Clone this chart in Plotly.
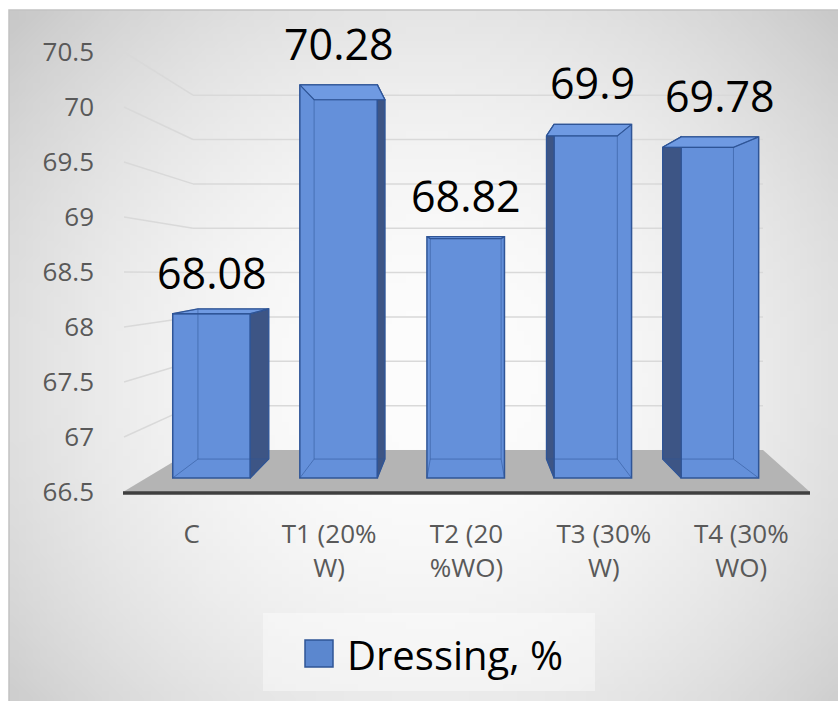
import base64
import struct
import zlib
import plotly.graph_objects as go

# ---------------- data ----------------
categories = ["C", "T1 (20%<br>W)", "T2 (20<br>%WO)", "T3 (30%<br>W)", "T4 (30%<br>WO)"]
dressing = [68.08, 70.28, 68.82, 69.90, 69.78]
value_labels = ["68.08", "70.28", "68.82", "69.9", "69.78"]
y_ticks = [66.5, 67, 67.5, 68, 68.5, 69, 69.5, 70, 70.5]
y_tick_labels = ["66.5", "67", "67.5", "68", "68.5", "69", "69.5", "70", "70.5"]
series_name = "Dressing, %"

# ---------------- layout constants (pixels) ----------------
W, H = 838, 701
Y_MIN, Y_MAX = 66.5, 70.5


def px(x):
    return x / W


def py(y):
    return 1 - y / H


# bar plane: index i -> 211.5 + 127.1*i ; value v -> 478 - (v-66.5)*104
BX0, BDX = 211.5, 127.1
BY0, BDY = 478.0, 104.0
x3_range = [(0 - BX0) / BDX, (W - BX0) / BDX]
y3_range = [Y_MIN - (H - BY0) / BDY, Y_MIN + BY0 / BDY]
VX = 2.0                      # vanishing point (data units of bar plane)
VY = Y_MIN + (BY0 - 258) / BDY
DEPTH = 0.086
HALF = 0.305

BAR_FACE = "#6490da"
BAR_TOP = "#6f9ae2"
BAR_SIDE = "#3d5585"
BAR_EDGE = "#2f5597"
GRID = "#d9d9d9"


def back(p):
    return (p[0] + DEPTH * (VX - p[0]), p[1] + DEPTH * (VY - p[1]))


def front_y(v):
    return 492 - (v - Y_MIN) * 110


def back_y(v):
    return 450 - (v - Y_MIN) * 88.7


# ---------------- background gradient image ----------------
def gradient_png(w, h):
    raw = bytearray()
    for r in range(h):
        raw.append(0)
        yy = 10 + (r + 0.5) / h * (H - 10)
        for c in range(w):
            xx = 9 + (c + 0.5) / w * (W - 9)
            d2 = ((xx - 430) / 430) ** 2 + ((yy - 380) / 420) ** 2
            raw.append(int(max(194, min(253, 253 - 31 * d2))))

    def chunk(tag, data):
        return (struct.pack(">I", len(data)) + tag + data
                + struct.pack(">I", zlib.crc32(tag + data) & 0xFFFFFFFF))

    png = b"\x89PNG\r\n\x1a\n"
    png += chunk(b"IHDR", struct.pack(">IIBBBBB", w, h, 8, 0, 0, 0, 0))
    png += chunk(b"IDAT", zlib.compress(bytes(raw), 9))
    png += chunk(b"IEND", b"")
    return "data:image/png;base64," + base64.b64encode(png).decode()


fig = go.Figure()
idx = list(range(len(categories)))

# category anchor points on the front (axis) plane - invisible, they carry the axis labels
fig.add_trace(go.Scatter(
    x=idx, y=[Y_MIN] * len(idx), mode="markers", marker=dict(opacity=0, size=1),
    hoverinfo="skip", showlegend=False, xaxis="x2", yaxis="y2"))

# ---------------- bars (front faces) ----------------
fig.add_trace(go.Bar(
    x=idx, y=[v - Y_MIN for v in dressing], base=Y_MIN, width=2 * HALF,
    marker=dict(color=BAR_FACE, line=dict(color=BAR_EDGE, width=1.5)),
    name=series_name, showlegend=False,
    hovertext=[c.replace("<br>", " ") + ": " + l for c, l in zip(categories, value_labels)],
    hoverinfo="text", xaxis="x3", yaxis="y3",
))

# ---------------- 3D faces ----------------
edge_x, edge_y = [], []
for i, v in zip(idx, dressing):
    FL, FR, TR, TL = (i - HALF, Y_MIN), (i + HALF, Y_MIN), (i + HALF, v), (i - HALF, v)
    bFL, bFR, bTR, bTL = back(FL), back(FR), back(TR), back(TL)
    side = None
    if i < VX - 1e-9:
        side = [FR, TR, bTR, bFR, FR]
    elif i > VX + 1e-9:
        side = [FL, TL, bTL, bFL, FL]
    if side:
        fig.add_trace(go.Scatter(
            x=[p[0] for p in side], y=[p[1] for p in side], mode="lines",
            fill="toself", fillcolor=BAR_SIDE, line=dict(color=BAR_EDGE, width=1.2),
            hoverinfo="skip", showlegend=False, xaxis="x3", yaxis="y3"))
    top = [TL, TR, bTR, bTL, TL]
    fig.add_trace(go.Scatter(
        x=[p[0] for p in top], y=[p[1] for p in top], mode="lines",
        fill="toself", fillcolor=BAR_TOP, line=dict(color=BAR_EDGE, width=1.2),
        hoverinfo="skip", showlegend=False, xaxis="x3", yaxis="y3"))
    for seg in ([bFL, bFR, bTR, bTL, bFL], [FL, bFL], [FR, bFR], [TL, bTL], [TR, bTR]):
        edge_x += [p[0] for p in seg] + [None]
        edge_y += [p[1] for p in seg] + [None]

fig.add_trace(go.Scatter(
    x=edge_x, y=edge_y, mode="lines",
    line=dict(color="rgba(47,85,151,0.55)", width=1),
    hoverinfo="skip", showlegend=False, xaxis="x3", yaxis="y3"))

# ---------------- decorations ----------------
shapes = [
    dict(type="rect", xref="paper", yref="paper", x0=px(9), x1=px(W + 2), y0=py(H + 2), y1=py(10),
         line=dict(color="#c2c2c2", width=1.5), fillcolor="rgba(0,0,0,0)", layer="below"),
    dict(type="path", xref="paper", yref="paper",
         path=f"M {px(123)} {py(492)} L {px(810)} {py(492)} L {px(763)} {py(450)} L {px(193)} {py(450)} Z",
         fillcolor="#b4b4b4", line=dict(width=0), layer="below"),
    dict(type="line", xref="paper", yref="paper", x0=px(123), x1=px(810), y0=py(493), y1=py(493),
         line=dict(color="#3f3f3f", width=3.5), layer="below"),
    dict(type="rect", xref="paper", yref="paper", x0=px(263), x1=px(595), y0=py(691), y1=py(613),
         fillcolor="rgba(255,255,255,0.4)", line=dict(width=0), layer="below"),
    dict(type="rect", xref="paper", yref="paper", x0=px(305), x1=px(333), y0=py(667), y1=py(640),
         fillcolor="#5b87cf", line=dict(color=BAR_EDGE, width=1.5), layer="above"),
]
for v in y_ticks[1:]:
    # side wall line
    shapes.append(dict(type="line", xref="paper", yref="paper",
                       x0=px(124), x1=px(193), y0=py(front_y(v)), y1=py(back_y(v)),
                       line=dict(color=GRID, width=1.5), layer="below"))
    # back wall gridline
    shapes.append(dict(type="line", xref="paper", yref="paper",
                       x0=px(193), x1=px(763), y0=py(back_y(v)), y1=py(back_y(v)),
                       line=dict(color=GRID, width=1.5), layer="below"))

annotations = [
    dict(x=i, y=v, xref="x3", yref="y3", text=t, showarrow=False, yanchor="bottom",
         yshift=10, font=dict(family="Open Sans", size=43, color="#000000"))
    for i, v, t in zip(idx, dressing, value_labels)
]
annotations.append(dict(x=px(345), y=py(654), xref="paper", yref="paper", text=series_name,
                        showarrow=False, xanchor="left", yanchor="middle",
                        font=dict(family="Open Sans", size=40, color="#000000")))

fig.update_layout(
    width=W, height=H, margin=dict(l=0, r=0, t=0, b=0, autoexpand=False),
    paper_bgcolor="#ffffff", plot_bgcolor="rgba(0,0,0,0)",
    showlegend=False, shapes=shapes, annotations=annotations,
    images=[dict(source=gradient_png(120, 100), xref="paper", yref="paper",
                 x=px(9), y=py(10), sizex=1 - px(9), sizey=py(10), sizing="stretch",
                 xanchor="left", yanchor="top", layer="below")],
    # front axis plane with tick labels
    xaxis2=dict(domain=[px(123), px(810)], range=[-0.5, len(categories) - 0.5], anchor="y2",
                tickvals=idx, ticktext=categories, showgrid=False, zeroline=False, showline=False,
                ticks="", ticklabelstandoff=24, automargin=False,
                tickfont=dict(family="Open Sans", size=26, color="#595959"), fixedrange=True),
    yaxis2=dict(domain=[py(front_y(Y_MIN)), py(front_y(Y_MAX))], range=[Y_MIN, Y_MAX], anchor="x2",
                tickvals=y_ticks, ticktext=y_tick_labels, showgrid=False, zeroline=False,
                showline=False, ticks="", ticklabelstandoff=28, automargin=False,
                tickfont=dict(family="Open Sans", size=26, color="#595959"), fixedrange=True),
    # bar plane
    xaxis3=dict(domain=[0, 1], range=x3_range, anchor="y3", visible=False, fixedrange=True,
                automargin=False),
    yaxis3=dict(domain=[0, 1], range=y3_range, anchor="x3", visible=False, fixedrange=True,
                automargin=False),
)

fig.write_html("out.html")
